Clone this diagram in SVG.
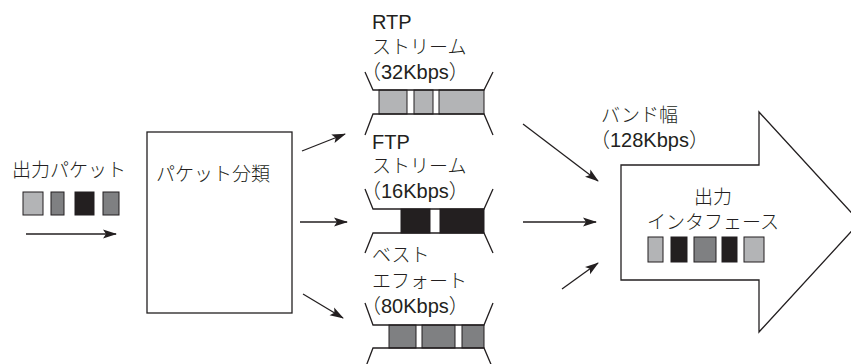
<svg xmlns="http://www.w3.org/2000/svg" width="851" height="364" viewBox="0 0 851 364">
<defs>
<style>
text{font-family:"Liberation Sans","Noto Sans CJK JP",sans-serif;font-size:19px;font-weight:300;fill:#231f20}
.lat{font-size:20px}
.ln{fill:none;stroke:#231f20;stroke-width:1.3}
.box{fill:#fff;stroke:#231f20;stroke-width:1.3}
.lg{fill:#b3b4b6;stroke:#231f20;stroke-width:1}
.dg{fill:#7f8082;stroke:#231f20;stroke-width:1}
.bk{fill:#231f20;stroke:#231f20;stroke-width:1}
.ar{fill:none;stroke:#231f20;stroke-width:1.3;marker-end:url(#ah)}
</style>
<marker id="ah" viewBox="0 0 14 10" refX="13" refY="5" markerWidth="14" markerHeight="10" markerUnits="userSpaceOnUse" orient="auto">
<path d="M0,0.5 L14,5 L0,9.5 L3,5 z" fill="#231f20"/>
</marker>
</defs>
<rect width="851" height="364" fill="#fff"/>

<g id="input">
<text x="12" y="177">出力パケット</text>
<rect class="lg" x="23" y="192" width="20" height="23"/>
<rect class="dg" x="51" y="192" width="13" height="23"/>
<rect class="bk" x="75" y="192" width="19" height="23"/>
<rect class="dg" x="103" y="192" width="16" height="23"/>
</g>

<g id="classifier">
<rect class="box" x="147" y="132" width="145" height="181"/>
<text x="156" y="181">パケット分類</text>
</g>

<g id="q-rtp">
<text class="lat" x="372" y="29">RTP</text>
<text x="372" y="54">ストリーム</text>
<text class="lat" x="361" y="79">（32Kbps）</text>
<rect class="lg" x="379" y="90" width="28" height="24"/>
<rect class="lg" x="414" y="90" width="19" height="24"/>
<rect class="lg" x="439" y="90" width="45" height="24"/>
<path class="ln" d="M365,72 L373,90 L484,90 L493,72 M365,135 L373,114 L484,114 L493,135"/>
</g>

<g id="q-ftp">
<text class="lat" x="372" y="149">FTP</text>
<text x="372" y="173">ストリーム</text>
<text class="lat" x="361" y="198">（16Kbps）</text>
<rect class="bk" x="401" y="209" width="29" height="24"/>
<rect class="bk" x="440" y="209" width="44" height="24"/>
<path class="ln" d="M365,189 L373,209 L484,209 L493,189 M365,253 L373,233 L484,233 L493,253"/>
</g>

<g id="q-be">
<text x="372" y="262">ベスト</text>
<text x="372" y="288">エフォート</text>
<text class="lat" x="361" y="313">（80Kbps）</text>
<rect class="dg" x="389" y="325" width="27" height="23"/>
<rect class="dg" x="422" y="325" width="33" height="23"/>
<rect class="dg" x="462" y="325" width="22" height="23"/>
<path class="ln" d="M365,303 L373,325 L484,325 L493,303 M365,369 L373,348 L484,348 L493,369"/>
</g>

<g id="interface">
<polygon class="box" points="621,165 759,165 759,112 860,222 759,332 759,280 621,280"/>
<text x="601" y="122">バンド幅</text>
<text class="lat" x="590" y="147">（128Kbps）</text>
<text x="713" y="204" text-anchor="middle">出力</text>
<text x="713" y="229" text-anchor="middle">インタフェース</text>
<rect class="lg" x="648" y="237" width="15" height="25"/>
<rect class="bk" x="671" y="237" width="16" height="25"/>
<rect class="dg" x="694" y="237" width="22" height="25"/>
<rect class="bk" x="722" y="237" width="15" height="25"/>
<rect class="lg" x="744" y="237" width="20" height="25"/>
</g>

<g id="connectors">
<line class="ar" x1="26" y1="234" x2="116" y2="234"/>
<line class="ar" x1="302" y1="151" x2="345" y2="134"/>
<line class="ar" x1="300" y1="222" x2="347" y2="222"/>
<line class="ar" x1="303" y1="294" x2="343" y2="318"/>
<line class="ar" x1="523" y1="124" x2="598" y2="181"/>
<line class="ar" x1="523" y1="222" x2="596" y2="222"/>
<line class="ar" x1="562" y1="289" x2="598" y2="263"/>
</g>
</svg>
